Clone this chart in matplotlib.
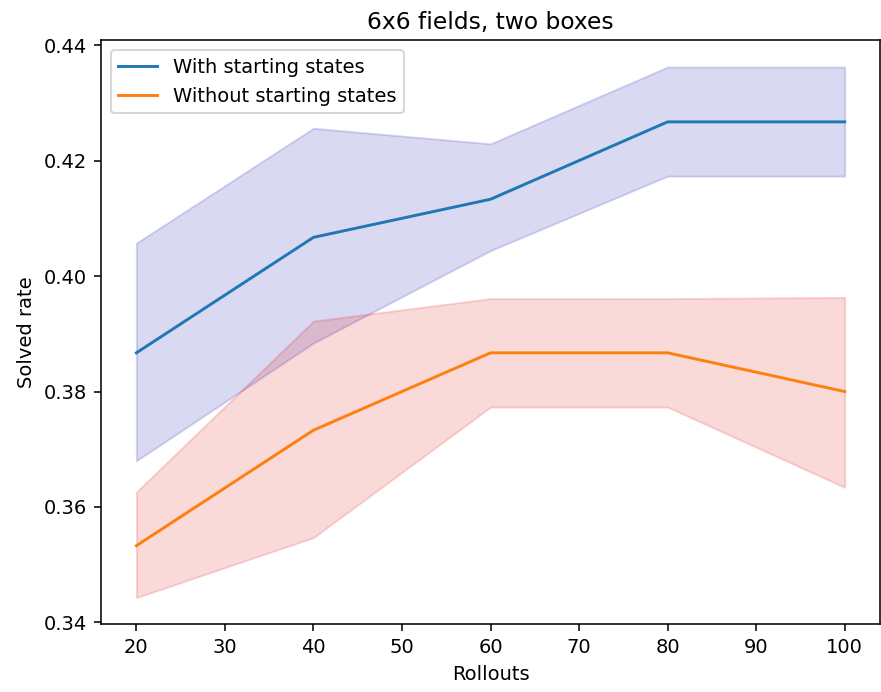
import numpy as np
import matplotlib
matplotlib.use('Agg')
import matplotlib.pyplot as plt

rollouts = [20, 40, 60, 80, 100]

# mean solved rate and band edges for each setup
with_mean = [0.3867, 0.4067, 0.4133, 0.4267, 0.4267]
with_low = [0.3680, 0.3884, 0.4044, 0.4173, 0.4173]
with_high = [0.4057, 0.4256, 0.4229, 0.4362, 0.4362]

without_mean = [0.3533, 0.3733, 0.3867, 0.3867, 0.3800]
without_low = [0.3443, 0.3547, 0.3773, 0.3773, 0.3634]
without_high = [0.3626, 0.3922, 0.3961, 0.3961, 0.3963]

fig = plt.figure(figsize=(881 / 140, 692 / 140), dpi=140)
ax = fig.add_subplot(111)
fig.subplots_adjust(left=0.1146, right=0.999, top=0.9415, bottom=0.098)

ax.plot(rollouts, with_mean, label='With starting states')
ax.fill_between(rollouts, with_low, with_high, color='#0000a8', alpha=0.15)
ax.plot(rollouts, without_mean, label='Without starting states')
ax.fill_between(rollouts, without_low, without_high, color='#e00000', alpha=0.15)

ax.set_yticks([0.34, 0.36, 0.38, 0.40, 0.42, 0.44])
ax.set_xlabel('Rollouts')
ax.set_ylabel('Solved rate')
ax.set_title('6x6 fields, two boxes')
ax.legend(loc='upper left')

fig.savefig('out.png', dpi=140)
